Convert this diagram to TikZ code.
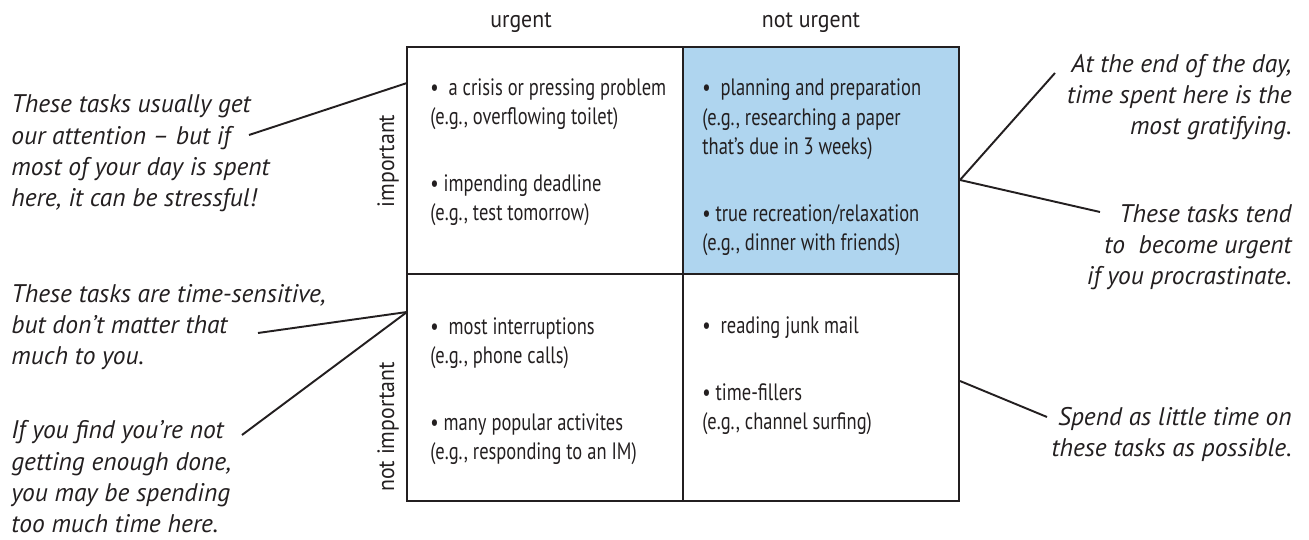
\documentclass[tikz,border=0pt]{standalone}
\usepackage{fontspec}
\setmainfont{PT Sans}
\newfontfamily\narrowfont[FakeStretch=0.78]{PT Sans}
\newfontfamily\axisfont[FakeStretch=0.92]{PT Sans}
\usepackage{tikz}

\definecolor{inkgray}{RGB}{35,31,32}
\definecolor{quadblue}{RGB}{175,213,239}

\tikzset{
    quad/.style={draw=inkgray, line width=1.4pt, minimum width=5.52cm, minimum height=4.54cm, inner sep=0pt},
    task/.style={anchor=base west, align=left, inner sep=0pt, text=inkgray, font=\narrowfont\fontsize{13.5}{17.07}\selectfont},
    axislabel/.style={inner sep=0pt, text=inkgray, font=\axisfont\fontsize{13.5}{17.07}\selectfont},
    remark/.style={inner sep=0pt, text=inkgray, font=\fontsize{14.5}{17.9}\selectfont\itshape},
    pointer/.style={draw=inkgray, line width=1.1pt}
}

\begin{document}
\begin{tikzpicture}[x=0.02cm, y=-0.02cm]
        \useasboundingbox (0,0) rectangle (1309,540);
        \node[quad] (iu) at (545,160.5) {};
        \node[quad, fill=quadblue] (inu) at (821,160.5) {};
        \node[quad] (niu) at (545,387.5) {};
        \node[quad] (ninu) at (821,387.5) {};
        \node[axislabel, anchor=base] (urg) at (521,28) {urgent};
        \node[axislabel, anchor=base] (nurg) at (811,28) {not urgent};
        \node[axislabel, anchor=base, rotate=90] (imp) at (394,161) {important};
        \node[axislabel, anchor=base, rotate=90] (nimp) at (394,427) {not important};
        \node[task] (crisis) at (430,125) {•\ \ a crisis or pressing problem\\(e.g., overflowing toilet)};
        \node[task] (deadline) at (430,221) {• impending deadline\\(e.g., test tomorrow)};
        \node[task] (planning) at (702,155) {•\ \ planning and preparation\\(e.g., researching a paper\\that’s due in 3 weeks)};
        \node[task] (recreation) at (702,251) {• true recreation/relaxation\\(e.g., dinner with friends)};
        \node[task] (interrupt) at (430,364) {•\ \ most interruptions\\(e.g., phone calls)};
        \node[task] (popular) at (430,460) {• many popular activites\\(e.g., responding to an IM)};
        \node[task] (junk) at (702,334) {•\ \ reading junk mail};
        \node[task] (fillers) at (702,430) {• time-fillers\\(e.g., channel surfing)};
        \node[remark, anchor=base west, align=left] (stress) at (11,207) {These tasks usually get\\our attention – but if\\most of your day is spent\\here, it can be stressful!};
        \node[remark, anchor=base west, align=left] (sensitive) at (11,365) {These tasks are time-sensitive,\\but don’t matter that\\much to you.};
        \node[remark, anchor=base west, align=left] (notdone) at (11,533) {If you find you’re not\\getting enough done,\\you may be spending\\too much time here.};
        \node[remark, anchor=base east, align=right] (gratify) at (1292,135) {At the end of the day,\\time spent here is the\\most gratifying.};
        \node[remark, anchor=base east, align=right] (procrast) at (1292,285) {These tasks tend\\to \ become urgent\\if you procrastinate.};
        \node[remark, anchor=base east, align=right] (little) at (1292,457) {Spend as little time on\\these tasks as possible.};
        \coordinate (s1) at (249,135);
        \coordinate (s2) at (258,333);
        \coordinate (s3) at (242,435);
        \coordinate (s4) at (1055,73);
        \coordinate (s5) at (1100,212);
        \coordinate (s6) at (1047,417);
        \coordinate (e1) at (407,83);
        \coordinate (e2) at (407,312);
        \coordinate (e3) at (960,180);
        \coordinate (e4) at (960,381);
        \draw[pointer] (s1) -- (e1);
        \draw[pointer] (s2) -- (e2);
        \draw[pointer] (s3) -- (e2);
        \draw[pointer] (s4) -- (e3);
        \draw[pointer] (s5) -- (e3);
        \draw[pointer] (s6) -- (e4);
    \end{tikzpicture}
\end{document}
